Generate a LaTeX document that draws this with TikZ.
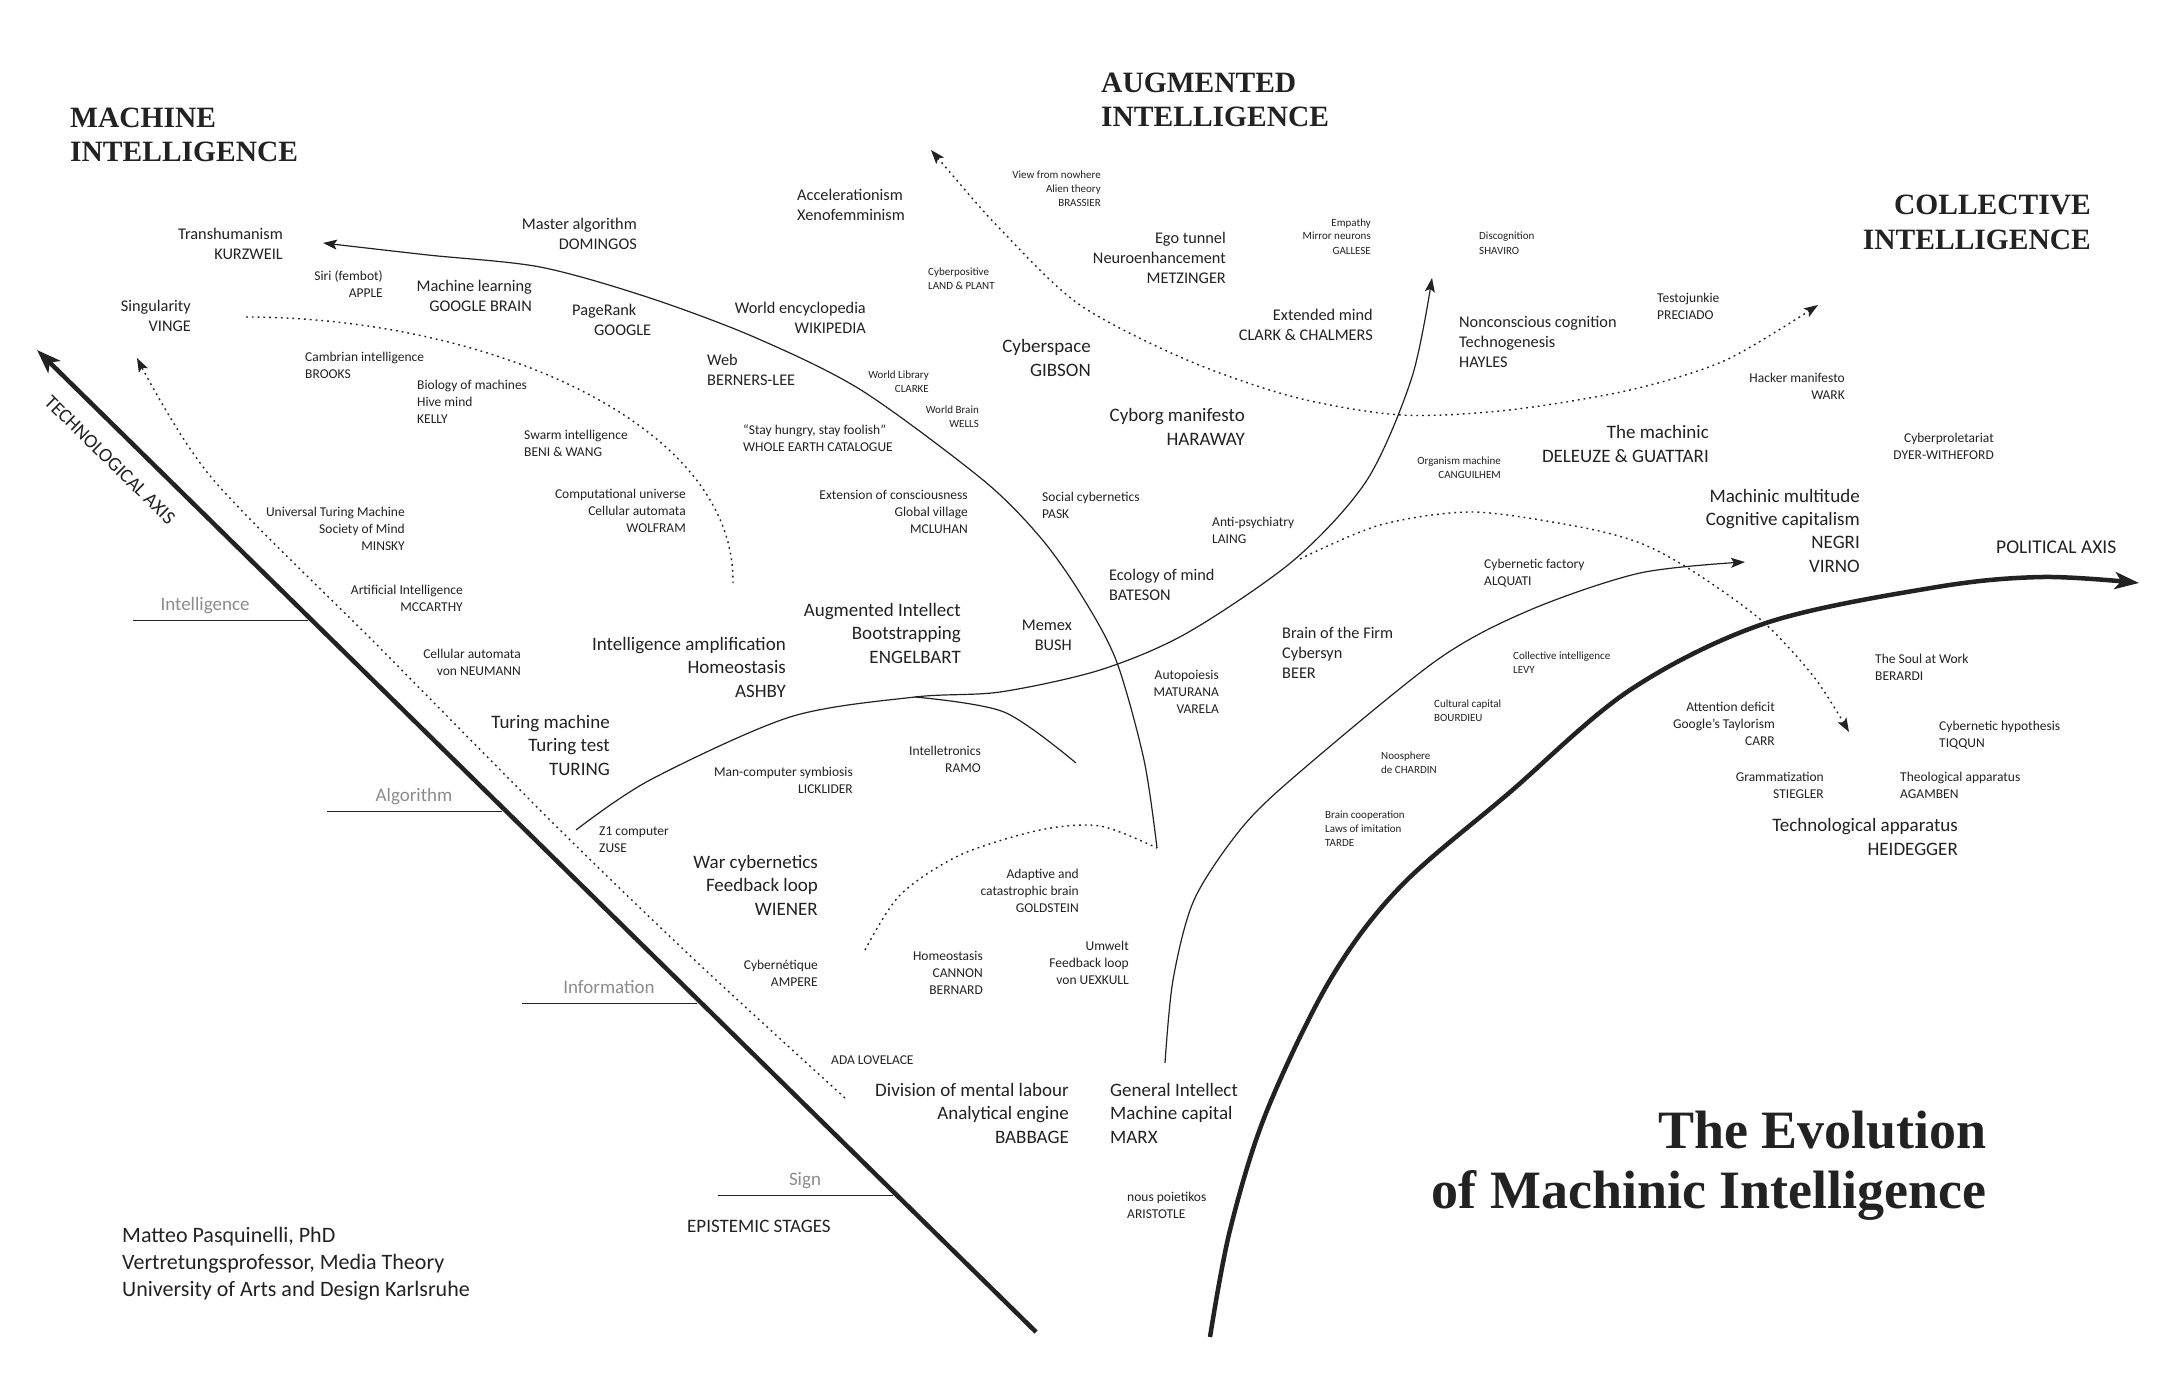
\documentclass[tikz,border=0pt]{standalone}
\usepackage{fontspec}
\setmainfont{Carlito}
\newfontfamily\headfont{Liberation Serif}
\usetikzlibrary{positioning, arrows.meta}

\definecolor{ink}{HTML}{222222}
\definecolor{stagegray}{HTML}{8C8C8C}

\begin{document}
\begin{tikzpicture}[
	x=1pt, y=-1pt,
	every node/.style={inner sep=0pt, text=ink},
	note/.style={font=\fontsize{11}{14}\selectfont},
	item/.style={font=\fontsize{13.5}{16.6}\selectfont},
	topic/.style={font=\fontsize{16.3}{20}\selectfont},
	major/.style={font=\fontsize{19}{23.3}\selectfont},
	heading/.style={font=\headfont\bfseries\fontsize{29.5}{34.5}\selectfont},
	lft/.style={align=left, anchor=base west},
	rgt/.style={align=right, anchor=base east},
	solidcurve/.style={draw=ink, line width=1.2pt},
	dotcurve/.style={draw=ink, line width=1.4pt, dash pattern=on 1.8pt off 4pt},
	arrowed/.style={-{Stealth[length=14pt, width=10pt, inset=3pt]}},
	axisline/.style={draw=ink, line width=4.5pt, -{Stealth[length=24pt, width=17pt, inset=6pt]}},
	stageline/.style={draw=ink, line width=1pt},
	stagelbl/.style={text=stagegray, font=\fontsize{19}{23}\selectfont, anchor=base},
]
	% Canvas
	\fill[white] (0,0) rectangle (2173,1375);
	\useasboundingbox (0,0) rectangle (2173,1375);

	% Headings (nodes sit on the baseline of their last line)
	\node[heading, lft] (machhead) at (70,162) {MACHINE\\INTELLIGENCE};
	\node[heading, lft] (aughead) at (1101,127) {AUGMENTED\\INTELLIGENCE};
	\node[heading, rgt] (collhead) at (2091,249) {COLLECTIVE\\INTELLIGENCE};
	\node[rgt, font=\headfont\bfseries\fontsize{54}{60}\selectfont] (title) at (1987,1208) {The Evolution\\of Machinic Intelligence};

	% Technological axis and epistemic stages
	\coordinate (techtip) at (37,350);
	\coordinate (techfoot) at (1036,1332);
	\draw[axisline] (techfoot) -- (techtip);
	\node[font=\fontsize{19.5}{23}\selectfont, rotate=-44.5] (techlbl) at (110,460) {TECHNOLOGICAL AXIS};
	\foreach \xs/\ys/\xt/\stage in {133/620/205/Intelligence, 327/811/414/Algorithm, 522/1003/609/Information, 718/1195/805/Sign} {
		\draw[stageline] (\xs,\ys) -- ++(175,0);
		\node[stagelbl] (stage-\stage) at (\xt,\ys-10) {\stage};
	}
	\node[lft, font=\fontsize{19}{23}\selectfont] (epistemic) at (687,1232) {EPISTEMIC STAGES};

	% Political axis
	\draw[axisline] plot[smooth, tension=0.55] coordinates {(1210,1337) (1230,1230) (1266,1113) (1330,980) (1400,887) (1509,793) (1630,690) (1766,623) (1937,587) (2043,577) (2139,583)};
	\node[lft, font=\fontsize{19.5}{23}\selectfont] (political) at (1996,553) {POLITICAL AXIS};

	% Curves
	\coordinate (meet) at (1157,848);
	\coordinate (hump) at (915,697);
	\draw[solidcurve, arrowed] plot[smooth] coordinates {(meet) (1144,760) (1116,660) (1080,593) (1040,537) (983,480) (861,390) (754,337) (647,297) (540,267) (428,255) (323,243)};
	\draw[solidcurve, arrowed] plot[smooth] coordinates {(576,830) (650,780) (790,717) (hump) (1000,692) (1100,670) (1187,633) (1294,560) (1367,480) (1412,377) (1432,278)};
	\draw[solidcurve] plot[smooth] coordinates {(hump) (1004,712) (1076,763)};
	\draw[solidcurve, arrowed] plot[smooth] coordinates {(1165,1063) (1173,980) (1194,900) (1240,830) (1294,777) (1437,660) (1530,610) (1640,573) (1745,562)};
	\draw[dotcurve, {Stealth[length=14pt, width=10pt, inset=3pt]}-{Stealth[length=14pt, width=10pt, inset=3pt]}] plot[smooth] coordinates {(931,150) (1004,233) (1080,305) (1187,360) (1294,397) (1401,415) (1509,410) (1630,390) (1726,360) (1818,305)};
	\draw[dotcurve] (246,317) .. controls (480,317) and (735,420) .. (733,583);
	\draw[dotcurve, arrowed] plot[smooth] coordinates {(845,1098) (700,965) (560,830) (380,648) (211,477) (137,358)};
	\draw[dotcurve] plot[smooth] coordinates {(865,950) (900,895) (960,855) (1040,830) (1100,826) (meet)};
	\draw[dotcurve, arrowed] plot[smooth] coordinates {(1300,559) (1380,525) (1473,512) (1580,527) (1640,543) (1691,570) (1761,620) (1814,677) (1849,732)};

	% Machine intelligence
	\node[topic, rgt] (transhuman) at (283,259) {Transhumanism\\KURZWEIL};
	\node[item, rgt] (siri) at (383,297) {Siri (fembot)\\APPLE};
	\node[topic, rgt] (mlearn) at (532,311) {Machine learning\\GOOGLE BRAIN};
	\node[topic, rgt] (singularity) at (191,331) {Singularity\\VINGE};
	\node[item, lft] (cambrian) at (305,378) {Cambrian intelligence\\BROOKS};
	\node[item, lft] (kelly) at (417,423) {Biology of machines\\Hive mind\\KELLY};
	\node[item, lft] (swarm) at (524,456) {Swarm intelligence\\BENI \& WANG};
	\node[topic, rgt] (domingos) at (637,249) {Master algorithm\\DOMINGOS};
	\node[topic, lft] (pagerank) at (572,335) {PageRank\\\hspace*{22pt}GOOGLE};
	\node[item, rgt] (minsky) at (405,550) {Universal Turing Machine\\Society of Mind\\MINSKY};
	\node[item, rgt] (mccarthy) at (463,611) {Artificial Intelligence\\MCCARTHY};
	\node[item, rgt] (neumann) at (521,675) {Cellular automata\\von NEUMANN};
	\node[item, rgt] (wolfram) at (686,532) {Computational universe\\Cellular automata\\WOLFRAM};
	\node[major, rgt] (turing) at (610,775) {Turing machine\\Turing test\\TURING};
	\node[item, lft] (zuse) at (599,852) {Z1 computer\\ZUSE};

	% Augmented intelligence
	\node[topic, lft] (accel) at (797,220) {Accelerationism\\Xenofemminism};
	\node[note, rgt] (brassier) at (1101,207) {View from nowhere\\Alien theory\\BRASSIER};
	\node[note, lft] (landplant) at (928,289) {Cyberpositive\\LAND \& PLANT};
	\node[topic, rgt] (wiki) at (866,333) {World encyclopedia\\WIKIPEDIA};
	\node[topic, lft] (web) at (707,385) {Web\\BERNERS-LEE};
	\node[major, rgt] (gibson) at (1091,376) {Cyberspace\\GIBSON};
	\node[note, rgt] (clarke) at (929,392) {World Library\\CLARKE};
	\node[note, rgt] (wells) at (979,427) {World Brain\\WELLS};
	\node[item, lft] (wholeearth) at (743,451) {“Stay hungry, stay foolish”\\WHOLE EARTH CATALOGUE};
	\node[topic, rgt] (metzinger) at (1226,283) {Ego tunnel\\Neuroenhancement\\METZINGER};
	\node[note, rgt] (gallese) at (1371,254) {Empathy\\Mirror neurons\\GALLESE};
	\node[note, lft] (shaviro) at (1479,254) {Discognition\\SHAVIRO};
	\node[topic, rgt] (extmind) at (1373,340) {Extended mind\\CLARK \& CHALMERS};
	\node[topic, lft] (hayles) at (1459,367) {Nonconscious cognition\\Technogenesis\\HAYLES};
	\node[major, rgt] (haraway) at (1245,445) {Cyborg manifesto\\HARAWAY};
	\node[item, rgt] (mcluhan) at (968,533) {Extension of consciousness\\Global village\\MCLUHAN};
	\node[item, lft] (pask) at (1042,518) {Social cybernetics\\PASK};
	\node[major, rgt] (engelbart) at (961,663) {Augmented Intellect\\Bootstrapping\\ENGELBART};
	\node[topic, rgt] (bush) at (1072,650) {Memex\\BUSH};
	\node[major, rgt] (ashby) at (786,697) {Intelligence amplification\\Homeostasis\\ASHBY};
	\node[item, rgt] (licklider) at (853,793) {Man-computer symbiosis\\LICKLIDER};
	\node[item, rgt] (ramo) at (981,772) {Intelletronics\\RAMO};
	\node[major, rgt] (wiener) at (818,915) {War cybernetics\\Feedback loop\\WIENER};
	\node[item, rgt] (goldstein) at (1079,912) {Adaptive and\\catastrophic brain\\GOLDSTEIN};
	\node[item, lft] (laing) at (1212,543) {Anti-psychiatry\\LAING};
	\node[topic, lft] (bateson) at (1109,600) {Ecology of mind\\BATESON};
	\node[item, rgt] (maturana) at (1219,713) {Autopoiesis\\MATURANA\\VARELA};
	\node[item, rgt] (ampere) at (818,986) {Cybernétique\\AMPERE};
	\node[item, rgt] (cannon) at (983,994) {Homeostasis\\CANNON\\BERNARD};
	\node[item, rgt] (uexkull) at (1129,984) {Umwelt\\Feedback loop\\von UEXKULL};
	\node[item, lft] (lovelace) at (831,1064) {ADA LOVELACE};
	\node[major, rgt] (babbage) at (1069,1143) {Division of mental labour\\Analytical engine\\BABBAGE};

	% Collective intelligence
	\node[note, rgt] (canguilhem) at (1501,478) {Organism machine\\CANGUILHEM};
	\node[major, rgt] (deleuze) at (1709,462) {The machinic\\DELEUZE \& GUATTARI};
	\node[item, lft] (preciado) at (1657,319) {Testojunkie\\PRECIADO};
	\node[item, rgt] (wark) at (1845,399) {Hacker manifesto\\WARK};
	\node[item, rgt] (dyer) at (1994,459) {Cyberproletariat\\DYER-WITHEFORD};
	\node[topic, lft] (beer) at (1282,678) {Brain of the Firm\\Cybersyn\\BEER};
	\node[item, lft] (alquati) at (1484,585) {Cybernetic factory\\ALQUATI};
	\node[note, lft] (levy) at (1513,673) {Collective intelligence\\LEVY};
	\node[note, lft] (bourdieu) at (1434,721) {Cultural capital\\BOURDIEU};
	\node[note, lft] (chardin) at (1381,773) {Noosphere\\de CHARDIN};
	\node[note, lft] (tarde) at (1325,846) {Brain cooperation\\Laws of imitation\\TARDE};
	\node[major, rgt] (negri) at (1860,572) {Machinic multitude\\Cognitive capitalism\\NEGRI\\VIRNO};
	\node[item, lft] (berardi) at (1875,680) {The Soul at Work\\BERARDI};
	\node[item, rgt] (carr) at (1775,745) {Attention deficit\\Google’s Taylorism\\CARR};
	\node[item, lft] (tiqqun) at (1939,747) {Cybernetic hypothesis\\TIQQUN};
	\node[item, rgt] (stiegler) at (1824,798) {Grammatization\\STIEGLER};
	\node[item, lft] (agamben) at (1900,798) {Theological apparatus\\AGAMBEN};
	\node[major, rgt] (heidegger) at (1958,855) {Technological apparatus\\HEIDEGGER};
	\node[major, lft] (marx) at (1110,1143) {General Intellect\\Machine capital\\MARX};
	\node[item, lft] (aristotle) at (1127,1218) {nous poietikos\\ARISTOTLE};

	% Author
	\node[lft, font=\fontsize{22}{27}\selectfont] (author) at (122,1296) {Matteo Pasquinelli, PhD\\Vertretungsprofessor, Media Theory\\University of Arts and Design Karlsruhe};
\end{tikzpicture}
\end{document}
